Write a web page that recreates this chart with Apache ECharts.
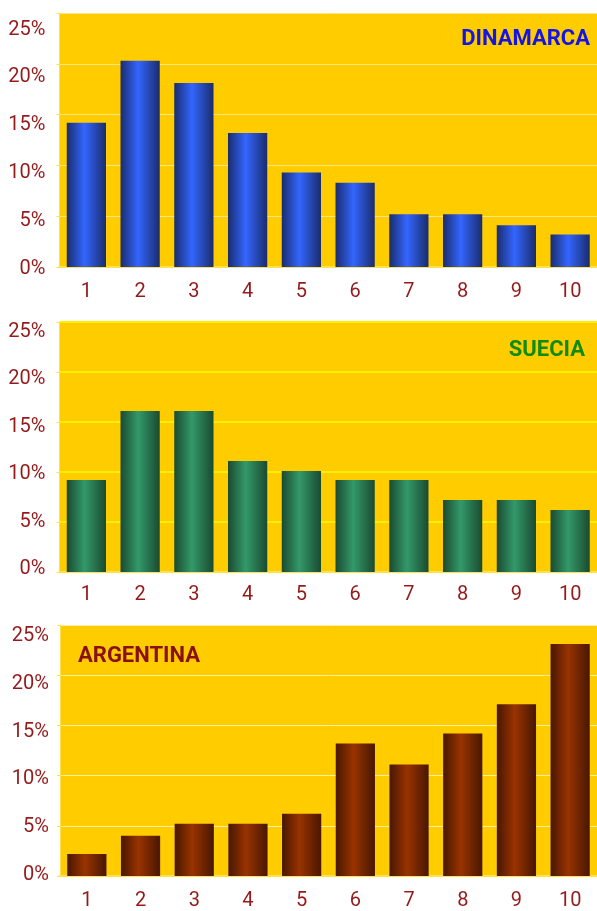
<!doctype html>
<html>
<head>
	<meta charset="utf-8">
	<title>Dinamarca / Suecia / Argentina</title>
	<script src="https://cdn.jsdelivr.net/npm/echarts@6/dist/echarts.min.js"></script>
	<style type="text/css">
		html, body {
			margin: 0;
			padding: 0;
			background: #fff;
		}
		#chart {
			width: 597px;
			height: 911px;
		}
	</style>
</head>
<body>
	<div id="chart"></div>
	<script type="text/javascript">
		var categories = ['1', '2', '3', '4', '5', '6', '7', '8', '9', '10'];
		var yTicks = [0, 5, 10, 15, 20, 25];
		var dinamarcaData = [14.2, 20.3, 18.1, 13.2, 9.3, 8.3, 5.2, 5.2, 4.1, 3.2];
		var sueciaData = [9.2, 16.1, 16.1, 11.1, 10.1, 9.2, 9.2, 7.2, 7.2, 6.2];
		var argentinaData = [2.2, 4.0, 5.2, 5.2, 6.2, 13.2, 11.1, 14.2, 17.1, 23.1];

		var labelColor = '#951b1b';
		var labelFont = 'Roboto';

		function barGradient(dark, light) {
			return new echarts.graphic.LinearGradient(0, 0, 1, 0, [
				{ offset: 0, color: dark },
				{ offset: 0.45, color: light },
				{ offset: 1, color: dark }
			]);
		}

		function makeX(idx, margin) {
			return {
				type: 'category',
				gridIndex: idx,
				data: categories,
				axisLine: { lineStyle: { color: '#ffe14d', width: 2 } },
				axisTick: { length: 4, lineStyle: { color: '#ffe14d' } },
				axisLabel: { color: labelColor, fontFamily: labelFont, fontSize: 20, margin: margin }
			};
		}

		// plot axis: grid lines and ticks, no labels
		function makeY(idx, gridColor, gridWidth) {
			return {
				type: 'value',
				gridIndex: idx,
				min: yTicks[0],
				max: yTicks[yTicks.length - 1],
				interval: 5,
				axisLine: { show: true, lineStyle: { color: '#ffe14d', width: 1 } },
				axisTick: { show: true, length: 3, lineStyle: { color: '#ffe14d' } },
				axisLabel: { show: false },
				splitLine: { lineStyle: { color: gridColor, width: gridWidth } }
			};
		}

		// label-only axes (labels sit on a slightly tighter scale than the grid lines)
		function hiddenX(idx) {
			return { type: 'category', gridIndex: idx, data: categories, show: false };
		}

		function labelY(idx, margin) {
			return {
				type: 'value',
				gridIndex: idx,
				min: yTicks[0],
				max: yTicks[yTicks.length - 1],
				interval: 5,
				axisLine: { show: false },
				axisTick: { show: false },
				splitLine: { show: false },
				axisLabel: {
					color: labelColor, fontFamily: labelFont, fontSize: 20, margin: margin,
					formatter: '{value}%'
				}
			};
		}

		var myChart = echarts.init(document.getElementById('chart'));
		var option = {
			animation: false,
			backgroundColor: '#fff',
			title: [
				{
					text: 'DINAMARCA', right: 7, top: 28, padding: 0,
					textStyle: { color: '#1414e6', fontFamily: labelFont, fontWeight: 'bold', fontSize: 22 }
				},
				{
					text: 'SUECIA', right: 12, top: 339, padding: 0,
					textStyle: { color: '#118a11', fontFamily: labelFont, fontWeight: 'bold', fontSize: 22 }
				},
				{
					text: 'ARGENTINA', left: 78, top: 645, padding: 0,
					textStyle: { color: '#8a0f0f', fontFamily: labelFont, fontWeight: 'bold', fontSize: 22 }
				}
			],
			grid: [
				{ left: 59.5, top: 13, width: 548, height: 254, show: true, backgroundColor: '#ffcc00', borderWidth: 0 },
				{ left: 59.5, top: 322, width: 548, height: 250, show: true, backgroundColor: '#ffcc00', borderWidth: 0 },
				{ left: 60, top: 625, width: 550, height: 255, show: true, backgroundColor: '#ffcc00', borderWidth: 0 },
				{ left: 59.5, top: 29.5, width: 548, height: 239.5 },
				{ left: 59.5, top: 331.5, width: 548, height: 237.5 },
				{ left: 60, top: 636, width: 550, height: 239 }
			],
			xAxis: [makeX(0, 15), makeX(1, 13), makeX(2, 15), hiddenX(3), hiddenX(4), hiddenX(5)],
			yAxis: [
				makeY(0, '#ffe680', 1),
				makeY(1, '#ffee00', 2),
				makeY(2, '#fff0a0', 1),
				labelY(3, 14),
				labelY(4, 14),
				labelY(5, 11)
			],
			series: [
				{
					type: 'bar', xAxisIndex: 0, yAxisIndex: 0, data: dinamarcaData, barWidth: '73%',
					itemStyle: { color: barGradient('#1a2c6c', '#3366ff') }
				},
				{
					type: 'bar', xAxisIndex: 1, yAxisIndex: 1, data: sueciaData, barWidth: '73%',
					itemStyle: { color: barGradient('#1a4a30', '#33996a') }
				},
				{
					type: 'bar', xAxisIndex: 2, yAxisIndex: 2, data: argentinaData, barWidth: '73%',
					itemStyle: { color: barGradient('#481700', '#993300') }
				}
			]
		};
		myChart.setOption(option);
	</script>
</body>
</html>
